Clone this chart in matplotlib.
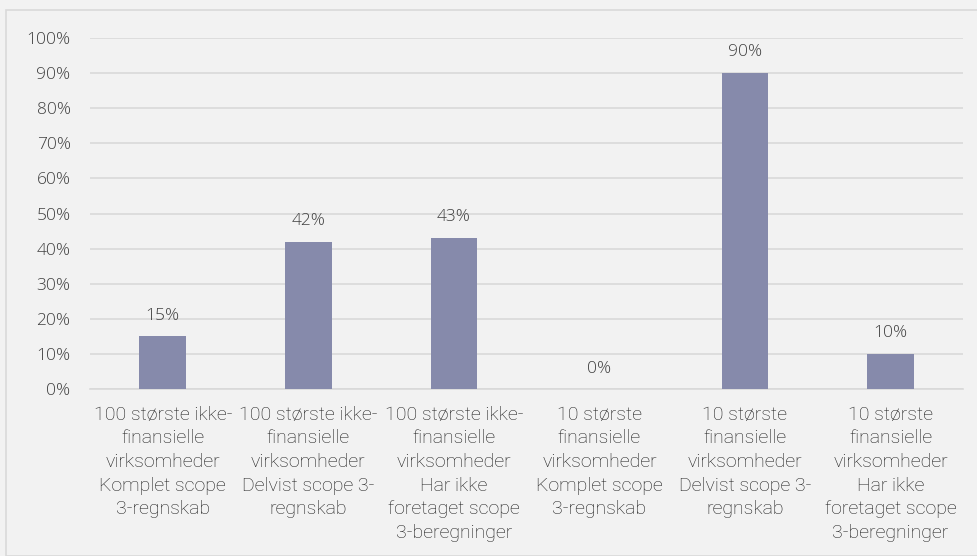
import matplotlib.pyplot as plt
from matplotlib.patches import Rectangle
from matplotlib.ticker import PercentFormatter

plt.rcParams['font.family'] = ['Roboto', 'DejaVu Sans']

categories = [
    '100 største ikke-\nfinansielle\nvirksomheder\nKomplet scope\n3-regnskab',
    '100 største ikke-\nfinansielle\nvirksomheder\nDelvist scope 3-\nregnskab',
    '100 største ikke-\nfinansielle\nvirksomheder\nHar ikke\nforetaget scope\n3-beregninger',
    '10 største\nfinansielle\nvirksomheder\nKomplet scope\n3-regnskab',
    '10 største\nfinansielle\nvirksomheder\nDelvist scope 3-\nregnskab',
    '10 største\nfinansielle\nvirksomheder\nHar ikke\nforetaget scope\n3-beregninger',
]
shares = [15, 42, 43, 0, 90, 10]

bg = '#f2f2f2'
txt = '#404040'
num_font = ['Open Sans', 'DejaVu Sans']
fig = plt.figure(figsize=(9.78, 5.56), dpi=100, facecolor=bg)
fig.patches.append(Rectangle((6 / 978, 0), 1, 1 - 10 / 556, transform=fig.transFigure,
                             fill=False, edgecolor='#d9d9d9', linewidth=1.2))
ax = fig.add_axes([0.092, 0.300, 0.893, 0.632])
ax.set_facecolor(bg)

x = range(len(categories))
bars = ax.bar(x, shares, width=0.32, color='#868aab', zorder=3)
for b, v in zip(bars, shares):
    ax.text(b.get_x() + b.get_width() / 2, v + 3.6, f'{v}%', ha='center', va='bottom',
            fontsize=12.5, color=txt, family=num_font, fontweight='light')

ax.set_ylim(0, 100)
ax.set_xlim(-0.5, len(categories) - 0.5)
ax.set_yticks(range(0, 101, 10))
ax.yaxis.set_major_formatter(PercentFormatter(decimals=0))
ax.grid(axis='y', color='#d9d9d9', linewidth=1.2, zorder=0)
ax.set_xticks(list(x))
ax.set_xticklabels(categories, fontsize=14, color='#1a1a1a', fontweight='light',
                   linespacing=1.4)
for t in ax.get_yticklabels():
    t.set_fontsize(12.5)
    t.set_color(txt)
    t.set_family(num_font)
    t.set_fontweight('light')
ax.tick_params(length=0)
ax.tick_params(axis='x', pad=12)
ax.tick_params(axis='y', pad=14)
for s in ['top', 'right', 'left']:
    ax.spines[s].set_visible(False)
ax.spines['bottom'].set_color('#d9d9d9')
ax.spines['bottom'].set_linewidth(1.2)

fig.savefig('out.png', dpi=100, facecolor=bg)
